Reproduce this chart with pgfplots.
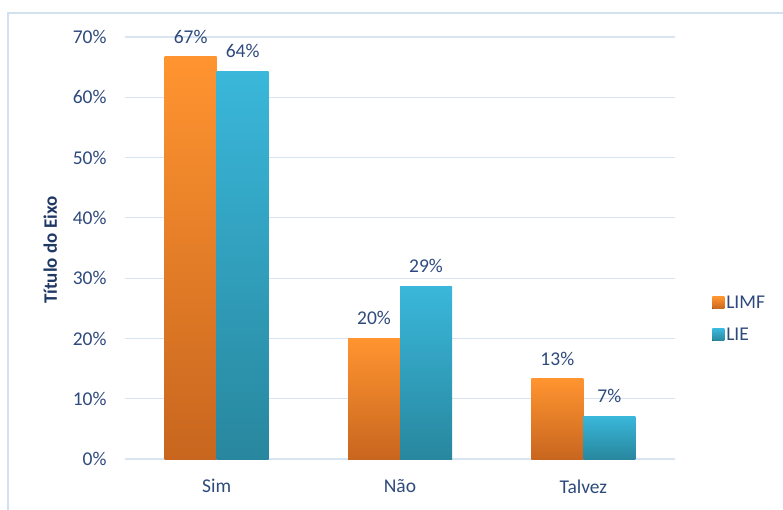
\documentclass[border=0pt]{standalone}
\usepackage{pgfplots}
\pgfplotsset{compat=1.18}
\usepackage{fontspec}
\setmainfont{Carlito}
\definecolor{txt}{HTML}{2E4A7C}
\definecolor{ttl}{HTML}{1F3864}
\definecolor{gridc}{HTML}{D9E4F2}
\definecolor{brd}{HTML}{D3E0F0}
\definecolor{otop}{HTML}{FF9430}
\definecolor{obot}{HTML}{C8661F}
\definecolor{btop}{HTML}{3AB7DA}
\definecolor{bbot}{HTML}{28879E}
\pgfplotsset{
  obar/.style={draw=none, top color=otop, bottom color=obot, bar shift=-26pt, forget plot},
  bbar/.style={draw=none, top color=btop, bottom color=bbot, bar shift=26pt, forget plot},
}
\begin{document}
\begin{tikzpicture}[x=1pt,y=1pt]
\useasboundingbox (0,0) rectangle (783,509);
\draw[brd, line width=1.5pt] (8,-5) -- (8,496) -- (790,496);
\begin{axis}[
  at={(125pt,50pt)}, anchor=south west,
  scale only axis, width=550pt, height=422pt,
  xmin=-0.5, xmax=2.5, ymin=0, ymax=70,
  ybar=0pt, bar width=52pt,
  xtick={0,1,2}, xticklabels={Sim,Não,Talvez},
  ytick={0,10,...,70},
  yticklabel={\pgfmathprintnumber{\tick}\%},
  /pgf/number format/assume math mode=true,
  ymajorgrids, grid style={color=gridc, line width=1.2pt},
  axis line style={draw=none}, major tick length=0pt,
  tick label style={font=\fontsize{19.5}{22}\selectfont, text=txt},
  yticklabel style={xshift=-15pt},
  xticklabel style={yshift=-17pt},
  ylabel={Título do Eixo},
  ylabel style={at={(rel axis cs:-0.136,0.495)}, anchor=center, rotate=0, font=\bfseries\fontsize{19}{21}\selectfont, text=ttl},
  nodes near coords={\pgfmathprintnumber[fixed,precision=0]{\pgfplotspointmeta}\%},
  every node near coord/.append style={font=\fontsize{19.5}{22}\selectfont, text=txt, yshift=10pt},
  legend style={at={(1.062,0.332)}, anchor=west, draw=none, fill=none,
    font=\fontsize{19.5}{22}\selectfont, text=txt, row sep=14pt,
    legend cell align=left},
]
% LIMF
\addplot[obar] coordinates {(0,66.7)};
\addplot[obar] coordinates {(1,20.0)};
\addplot[obar] coordinates {(2,13.3)};
% LIE
\addplot[bbar] coordinates {(0,64.3)};
\addplot[bbar] coordinates {(1,28.6)};
\addplot[bbar] coordinates {(2,7.1)};
\addlegendimage{draw=none, legend image code/.code={\fill[draw=none,top color=otop,bottom color=obot] (0pt,-6pt) rectangle (12pt,6pt);}}
\addlegendentry{LIMF}
\addlegendimage{draw=none, legend image code/.code={\fill[draw=none,top color=btop,bottom color=bbot] (0pt,-6pt) rectangle (12pt,6pt);}}
\addlegendentry{LIE}
\end{axis}
\end{tikzpicture}
\end{document}
